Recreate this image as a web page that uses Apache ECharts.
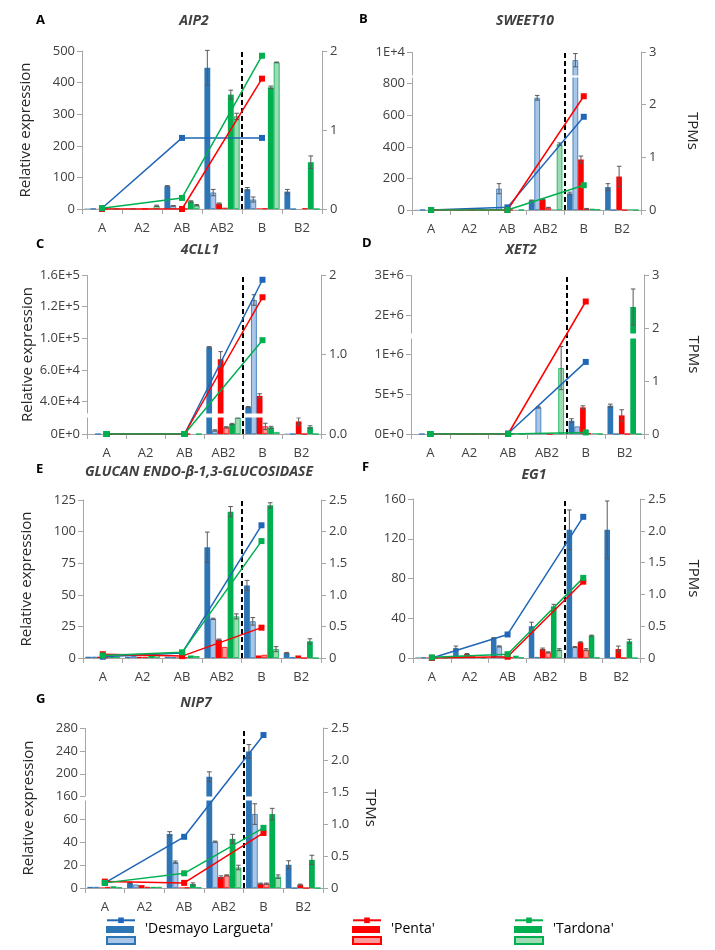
<!DOCTYPE html>
<html><head><meta charset="utf-8">
<script src="https://cdn.jsdelivr.net/npm/echarts@6/dist/echarts.min.js"></script>
<style>html,body{margin:0;padding:0;background:#fff}#c{width:715px;height:950px}</style>
</head><body><div id="c"></div>
<script>
// ---------------- DATA ----------------
const categories = ['A', 'A2', 'AB', 'AB2', 'B', 'B2'];
const genotypes = ["'Desmayo Largueta'", "'Penta'", "'Tardona'"];
const dividerAfter = 'AB2';
// bar rows: Desmayo, Desmayo (light), Penta, Penta (light), Tardona, Tardona (light)

// A  AIP2
const aip2Bars = [
  [1, 1, 72, 447, 63, 55],
  [1, 1, 10, 52, 30, 0],
  [0.5, 0.5, 1, 17, 2, 0],
  [0.5, 0.5, 1, 4, 2, 2],
  [1, 1, 24, 362, 385, 148],
  [1, 10, 12, 293, 464, 0]
];
const aip2Err = [
  [0, 0, 2, 55, 5, 7],
  [0, 0, 1, 10, 8, 0],
  [0, 0, 0, 2, 0, 0],
  [0, 0, 0, 0, 0, 0],
  [0, 0, 2, 14, 4, 20],
  [0, 2, 2, 10, 1, 0]
];
const aip2Tpm = [[0.01, null, 0.9, null, 0.9, null], [0, null, 0, null, 1.65, null], [0.01, null, 0.14, null, 1.94, null]];
const aip2LeftTicks = [0, 100, 200, 300, 400, 500];
const aip2LeftLabels = ['0', '100', '200', '300', '400', '500'];
const aip2RightTicks = [0, 1, 2];
const aip2RightLabels = ['0', '1', '2'];

// B  SWEET10
const sweet10Bars = [
  [1, 1, 5, 60, 105, 145],
  [1, 1, 135, 711, 9948, 0],
  [0.5, 0.5, 2, 67, 320, 212],
  [0.5, 0.5, 1, 15, 8, 0],
  [0.5, 0.5, 1, 3, 8, 4],
  [0.5, 0.5, 1, 417, 3, 0]
];
const sweet10Err = [
  [0, 0, 0, 3, 8, 22],
  [0, 0, 32, 15, 42, 0],
  [0, 0, 0, 2, 22, 65],
  [0, 0, 0, 2, 2, 0],
  [0, 0, 0, 0, 0, 0],
  [0, 0, 0, 8, 0, 0]
];
const sweet10Tpm = [[0, null, 0.05, null, 1.77, null], [0, null, 0, null, 2.16, null], [0, null, 0, null, 0.47, null]];
const sweet10LeftTicks = [0, 200, 400, 600, 800, 10000];
const sweet10LeftLabels = ['0', '200', '400', '600', '800', '1E+4'];
const sweet10RightTicks = [0, 1, 2, 3];
const sweet10RightLabels = ['0', '1', '2', '3'];

// C  4CLL1
const cll1Bars = [
  [0, 0, 0, 91500, 34700, 300],
  [0, 0, 0, 3400, 136300, 0],
  [0, 0, 0, 80100, 45400, 11900],
  [0, 0, 0, 6300, 7200, 0],
  [0, 0, 0, 9500, 6300, 6600],
  [0, 0, 0, 15700, 1900, 0]
];
const cll1Err = [
  [0, 0, 0, 600, 600, 0],
  [0, 0, 0, 600, 5000, 0],
  [0, 0, 0, 7200, 2000, 3500],
  [0, 0, 0, 600, 3000, 0],
  [0, 0, 0, 600, 1000, 1200],
  [0, 0, 0, 600, 0, 0]
];
const cll1Tpm = [[0, null, 0, null, 1.94, null], [0, null, 0, null, 1.72, null], [0, null, 0, null, 1.18, null]];
const cll1LeftTicks = [0, 40000, 70000, 100000, 130000, 160000];
const cll1LeftLabels = ['0E+0', '4.0E+4', '6.0E+4', '1.0E+5', '1.2E+5', '1.6E+5'];
const cll1RightTicks = [0, 1, 2];
const cll1RightLabels = ['0.0', '1.0', '2'];

// D  XET2
const xet2Bars = [
  [0, 0, 2000, 2000, 166000, 354000],
  [0, 0, 0, 333000, 95000, 0],
  [0, 0, 0, 12000, 333000, 233000],
  [0, 0, 0, 0, 10000, 0],
  [0, 0, 0, 2000, 8000, 2100000],
  [0, 0, 0, 825000, 2000, 0]
];
const xet2Err = [
  [0, 0, 0, 0, 25000, 20000],
  [0, 0, 0, 8000, 0, 0],
  [0, 0, 0, 0, 20000, 70000],
  [0, 0, 0, 0, 0, 0],
  [0, 0, 0, 0, 0, 225000],
  [0, 0, 0, 270000, 0, 0]
];
const xet2Tpm = [[0, null, 0.01, null, 1.36, null], [0, null, 0, null, 2.5, null], [0, null, 0, null, 0.03, null]];
const xet2LeftTicks = [0, 500000, 1000000, 2000000, 2500000];
const xet2LeftLabels = ['0E+0', '5E+5', '1E+6', '2E+6', '3E+6'];
const xet2RightTicks = [0, 1, 2, 3];
const xet2RightLabels = ['0', '1', '2', '3'];

// E  GLUCAN ENDO-β-1,3-GLUCOSIDASE
const glucanBars = [
  [1, 1, 1, 87.6, 57.4, 3.9],
  [1, 1.5, 0.5, 31, 29, 0.5],
  [1, 1, 0.5, 14.5, 2, 2],
  [0.5, 1, 0.5, 8.7, 2.5, 0],
  [1.5, 2, 2, 115.8, 120.8, 13.2],
  [1, 2.6, 1.5, 32.9, 7, 0]
];
const glucanErr = [
  [0, 0, 0, 12, 4, 0.5],
  [0, 0, 0, 0.5, 3, 0],
  [0, 0, 0, 0.5, 0, 0],
  [0, 0, 0, 0, 0, 0],
  [0, 0, 0, 4, 2, 2],
  [0, 0, 0, 2, 2, 0]
];
const glucanTpm = [[0.02, null, 0.08, null, 2.1, null], [0.06, null, 0.03, null, 0.48, null], [0.04, null, 0.09, null, 1.85, null]];
const glucanLeftTicks = [0, 25, 50, 75, 100, 125];
const glucanLeftLabels = ['0', '25', '50', '75', '100', '125'];
const tpm25Ticks = [0, 0.5, 1, 1.5, 2, 2.5];
const tpm25Labels = ['0', '0.5', '1.0', '1.5', '2.0', '2.5'];

// F  EG1
const eg1Bars = [
  [0.5, 10, 20, 32, 129, 129],
  [0.5, 2, 11.7, 1, 11, 0],
  [0.5, 4, 1, 9, 15.8, 9],
  [0.5, 2, 1, 5.7, 8.4, 0],
  [0.5, 0.5, 2.3, 52, 22.5, 16.8],
  [0.5, 0.5, 0.5, 8.4, 0.5, 0]
];
const eg1Err = [
  [0, 2, 0.5, 4, 20, 29],
  [0, 0, 0.5, 0, 0.5, 0],
  [0, 0.5, 0, 1, 0.5, 3],
  [0, 0, 0, 0.5, 1, 0],
  [0, 0, 0, 2, 0.5, 2],
  [0, 0, 0, 1, 0, 0]
];
const eg1Tpm = [[0, null, 0.37, null, 2.22, null], [0, null, 0.02, null, 1.2, null], [0.01, null, 0.06, null, 1.26, null]];
const eg1LeftTicks = [0, 40, 80, 120, 160];
const eg1LeftLabels = ['0', '40', '80', '120', '160'];

// G  NIP7
const nip7Bars = [
  [1, 4.3, 47.2, 97.4, 119.5, 20.3],
  [1, 3, 22.6, 40.5, 64.6, 0],
  [0.5, 2.5, 0.5, 9.6, 3.8, 2.9],
  [1, 1, 0.5, 11, 3.8, 0],
  [1.5, 1, 3.5, 42.9, 64.6, 24.6],
  [0.5, 1, 0.5, 17.9, 9.9, 0]
];
const nip7Err = [
  [0, 0.5, 2, 4.3, 6, 3.5],
  [0, 0, 1, 0.5, 9, 0],
  [0, 0, 0, 1, 0.5, 0.5],
  [0, 0, 0, 0.5, 0.5, 0],
  [0, 0, 1, 4, 5, 4],
  [0, 0, 0, 2, 1.5, 0]
];
const nip7Tpm = [[0.08, null, 0.8, null, 2.39, null], [0.1, null, 0.08, null, 0.86, null], [0.08, null, 0.23, null, 0.94, null]];
const nip7LeftTicks = [0, 20, 40, 60, 80, 100, 120, 140];
const nip7LeftLabels = ['0', '20', '40', '60', '160', '200', '240', '280'];

// ---------------- LAYOUT / STYLE ----------------
const panels = [
  { letter: 'A', gene: 'AIP2', bars: aip2Bars, err: aip2Err, tpm: aip2Tpm, lt: aip2LeftTicks, ll: aip2LeftLabels, rt: aip2RightTicks, rl: aip2RightLabels,
    grid: { left: 82, top: 51, width: 240, height: 158 }, lname: true, rname: false, letterPos: [36, 14], titlePos: [194, 14], brk: null },
  { letter: 'B', gene: 'SWEET10', bars: sweet10Bars, err: sweet10Err, tpm: sweet10Tpm, lt: sweet10LeftTicks, ll: sweet10LeftLabels, rt: sweet10RightTicks, rl: sweet10RightLabels,
    grid: { left: 412, top: 52, width: 229, height: 158 }, lname: false, rname: true, rgap: 44, letterPos: [359, 13], titlePos: [525, 14],
    brk: { start: 840, end: 9855, gap: '1.6%' } },
  { letter: 'C', gene: '4CLL1', bars: cll1Bars, err: cll1Err, tpm: cll1Tpm, lt: cll1LeftTicks, ll: cll1LeftLabels, rt: cll1RightTicks, rl: cll1RightLabels,
    grid: { left: 87, top: 275, width: 234, height: 159 }, lname: true, rname: false, letterPos: [36, 238], titlePos: [200, 243],
    brk: { start: 16000, end: 29000, gap: '2.5%' } },
  { letter: 'D', gene: 'XET2', bars: xet2Bars, err: xet2Err, tpm: xet2Tpm, lt: xet2LeftTicks, ll: xet2LeftLabels, rt: xet2RightTicks, rl: xet2RightLabels,
    grid: { left: 411, top: 275, width: 233, height: 159 }, lname: false, rname: true, rgap: 42, letterPos: [362, 237], titlePos: [521, 243],
    brk: { start: 1200000, end: 1770000, gap: '3%' } },
  { letter: 'E', gene: 'GLUCAN ENDO-β-1,3-GLUCOSIDASE', bars: glucanBars, err: glucanErr, tpm: glucanTpm, lt: glucanLeftTicks, ll: glucanLeftLabels, rt: tpm25Ticks, rl: tpm25Labels,
    grid: { left: 83, top: 500, width: 238, height: 158 }, lname: true, rname: false, letterPos: [36, 463], titlePos: [199, 465], brk: null },
  { letter: 'F', gene: 'EG1', bars: eg1Bars, err: eg1Err, tpm: eg1Tpm, lt: eg1LeftTicks, ll: eg1LeftLabels, rt: tpm25Ticks, rl: tpm25Labels,
    grid: { left: 413, top: 499, width: 227, height: 159 }, lname: false, rname: true, rgap: 46, letterPos: [362, 461], titlePos: [534, 468], brk: null },
  { letter: 'G', gene: 'NIP7', bars: nip7Bars, err: nip7Err, tpm: nip7Tpm, lt: nip7LeftTicks, ll: nip7LeftLabels, rt: tpm25Ticks, rl: tpm25Labels,
    grid: { left: 85, top: 728, width: 238, height: 160 }, lname: true, rname: true, rgap: 40, letterPos: [36, 693], titlePos: [196, 696],
    brk: { start: 77, end: 80, gap: '2%' } }
];

const FONT = 'Open Sans';
const axisGray = '#a6a6a6';
const labelColor = '#404040';
const darkColors = ['#2e75b6', '#ff0000', '#00b050'];
const lightColors = ['#a9c6e8', '#ff9a9a', '#9fdcb3'];
const lineColors = ['#1f66b8', '#ff0000', '#00b050'];
const BAR_CAT_GAP = 0.12;
const legendX = [106, 352, 514];
const legendRows = [
  { suffix: ' TPMs', top: 917.5, text: false, icon: null },
  { suffix: '', top: 922.5, text: true, icon: 'rect' },
  { suffix: ' (light)', top: 936, text: false, icon: 'rect' }
];

function labelFor(ticks, labels, v) {
  for (let i = 0; i < ticks.length; i++) {
    if (Math.abs(ticks[i] - v) <= Math.abs(ticks[ticks.length - 1]) * 1e-6) return labels[i];
  }
  return '';
}

function renderErr(params, api) {
  const ci = api.value(0), v = api.value(1), e = api.value(2), s = api.value(3);
  const c = api.coord([ci, v]);
  const band = api.size([1, 0])[0];
  const group = band * (1 - BAR_CAT_GAP);
  const bw = group / 6;
  const x = c[0] - group / 2 + (s + 0.5) * bw;
  const top = api.coord([ci, v + e])[1];
  const bot = api.coord([ci, Math.max(v - e, 0)])[1];
  const cap = bw * 0.4;
  const st = { stroke: '#595959', lineWidth: 1 };
  return {
    type: 'group', children: [
      { type: 'line', shape: { x1: x, y1: top, x2: x, y2: bot }, style: st },
      { type: 'line', shape: { x1: x - cap, y1: top, x2: x + cap, y2: top }, style: st },
      { type: 'line', shape: { x1: x - cap, y1: bot, x2: x + cap, y2: bot }, style: st }
    ]
  };
}

const option = {
  animation: false,
  textStyle: { fontFamily: FONT },
  title: [], grid: [], xAxis: [], yAxis: [], series: [], legend: []
};

panels.forEach((p, k) => {
  option.grid.push(Object.assign({ containLabel: false }, p.grid));
  option.title.push({ text: p.gene, left: p.titlePos[0], top: p.titlePos[1], textAlign: 'center', padding: 0,
    textStyle: { fontFamily: FONT, fontSize: 14, fontStyle: 'italic', fontWeight: 'bold', color: '#404040' } });
  option.title.push({ text: p.letter, left: p.letterPos[0], top: p.letterPos[1], padding: 0,
    textStyle: { fontFamily: FONT, fontSize: 13, fontWeight: 'bold', color: '#000' } });

  option.xAxis.push({
    type: 'category', gridIndex: k, data: categories,
    axisLine: { lineStyle: { color: axisGray } },
    axisTick: { show: true, length: 5, lineStyle: { color: axisGray } },
    axisLabel: { color: labelColor, fontSize: 13, margin: 13, fontFamily: FONT },
    splitLine: { show: false }
  });
  option.xAxis.push({ type: 'value', gridIndex: k, min: 0, max: categories.length, show: false });

  const left = {
    type: 'value', gridIndex: k, position: 'left', min: 0, max: p.lt[p.lt.length - 1],
    axisLine: { show: true, lineStyle: { color: axisGray } },
    axisTick: { show: true, length: 5, customValues: p.lt, lineStyle: { color: axisGray } },
    axisLabel: { customValues: p.lt, formatter: (v) => labelFor(p.lt, p.ll, v), color: labelColor, fontSize: 13, margin: 7, fontFamily: FONT },
    splitLine: { show: false }
  };
  if (p.brk) {
    left.breaks = [p.brk];
    left.breakArea = { show: true, itemStyle: { color: '#fff', borderColor: '#fff', borderWidth: 0, opacity: 1 }, zigzagAmplitude: 0, zigzagZ: 4, expandOnClick: false };
  }
  if (p.lname) {
    left.name = 'Relative expression';
    left.nameLocation = 'middle';
    left.nameGap = 49;
    left.nameTextStyle = { fontSize: 15, color: '#262626', fontFamily: FONT };
  }
  option.yAxis.push(left);

  const right = {
    type: 'value', gridIndex: k, position: 'right', min: 0, max: p.rt[p.rt.length - 1],
    axisLine: { show: true, lineStyle: { color: axisGray } },
    axisTick: { show: true, length: 5, customValues: p.rt, lineStyle: { color: axisGray } },
    axisLabel: { customValues: p.rt, formatter: (v) => labelFor(p.rt, p.rl, v), color: labelColor, fontSize: 13, margin: 8, fontFamily: FONT },
    splitLine: { show: false }
  };
  if (p.rname) {
    right.name = 'TPMs';
    right.nameLocation = 'middle';
    right.nameRotate = -90;
    right.nameGap = p.rgap;
    right.nameTextStyle = { fontSize: 15, color: '#262626', fontFamily: FONT };
  }
  option.yAxis.push(right);

  // bars
  for (let s = 0; s < 6; s++) {
    const g = Math.floor(s / 2), isLight = s % 2 === 1;
    option.series.push({
      type: 'bar', name: isLight ? genotypes[g] + ' (light)' : genotypes[g],
      xAxisIndex: 2 * k, yAxisIndex: 2 * k, data: p.bars[s],
      barGap: '0%', barCategoryGap: (BAR_CAT_GAP * 100) + '%',
      itemStyle: isLight ? { color: lightColors[g], borderColor: darkColors[g], borderWidth: 0.8 } : { color: darkColors[g] },
      z: 2, silent: true
    });
  }
  // error bars
  const errData = [];
  for (let s = 0; s < 6; s++) for (let c = 0; c < categories.length; c++) {
    if (p.err[s][c] > 0) errData.push([c, p.bars[s][c], p.err[s][c], s]);
  }
  option.series.push({ type: 'custom', name: 'err' + k, xAxisIndex: 2 * k, yAxisIndex: 2 * k, data: errData,
    renderItem: renderErr, encode: { x: 0, y: 1 }, z: 3, silent: true });
  // divider
  option.series.push({ type: 'line', name: 'div' + k, xAxisIndex: 2 * k + 1, yAxisIndex: 2 * k, data: [], silent: true, z: 5,
    markLine: { silent: true, symbol: ['none', 'none'], label: { show: false }, animation: false,
      lineStyle: { color: '#000', type: [5, 3], width: 2 },
      data: [{ xAxis: categories.indexOf(dividerAfter) + 1 }] } });
  // TPM lines
  for (let g = 0; g < 3; g++) {
    option.series.push({
      type: 'line', name: genotypes[g] + ' TPMs', xAxisIndex: 2 * k, yAxisIndex: 2 * k + 1, data: p.tpm[g],
      connectNulls: true, symbol: 'rect', symbolSize: 6, showAllSymbol: true,
      itemStyle: { color: lineColors[g] }, lineStyle: { color: lineColors[g], width: 1.5 }, z: 10, silent: true
    });
  }
});

genotypes.forEach((g, i) => {
  legendRows.forEach((r) => {
    const item = { name: g + r.suffix };
    if (r.icon) item.icon = r.icon;
    option.legend.push({
      orient: 'horizontal', left: legendX[i], top: r.top, itemWidth: 28, itemHeight: 7, itemGap: 0,
      selectedMode: false, padding: 0, data: [item],
      formatter: r.text ? ((n) => n) : (() => ''),
      textStyle: r.text
        ? { fontSize: 14, lineHeight: 14, color: '#000', fontFamily: FONT, padding: [0, 0, 0, 6] }
        : { fontSize: 1, lineHeight: 1, color: '#000' }
    });
  });
});

const chart = echarts.init(document.getElementById('c'), null, { renderer: 'canvas' });
chart.setOption(option);
</script>
</body></html>
